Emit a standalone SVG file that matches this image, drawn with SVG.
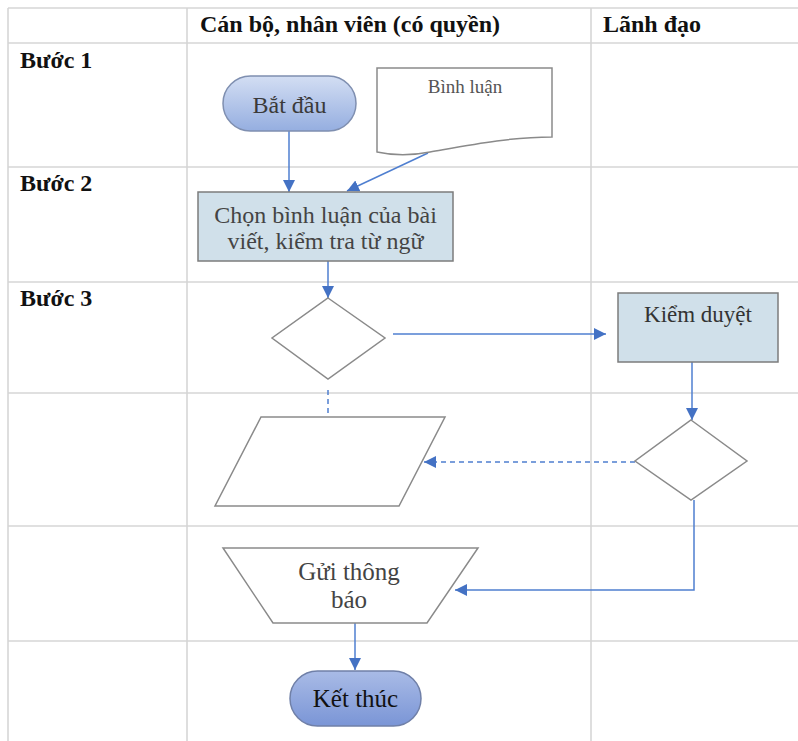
<svg xmlns="http://www.w3.org/2000/svg" width="798" height="741" viewBox="0 0 798 741">
<style>
.grid{stroke:#d6d6d6;stroke-width:1.6;fill:none}
.hdr{font-family:"Liberation Serif","Times New Roman",serif;font-weight:bold;font-size:24px;fill:#111}
.lbl{font-family:"Liberation Serif","Times New Roman",serif;font-size:24px;fill:#3a3a3a;text-anchor:middle}
.shape{stroke:#8a8a8a;stroke-width:1.5}
.con{stroke:#4f7fd0;stroke-width:1.5;fill:none}
.dash{stroke-dasharray:5,4}
</style>
<defs>
<linearGradient id="gStart" x1="0" y1="0" x2="0" y2="1">
<stop offset="0" stop-color="#d3def3"/>
<stop offset="1" stop-color="#95aee0"/>
</linearGradient>
<linearGradient id="gEnd" x1="0" y1="0" x2="0" y2="1">
<stop offset="0" stop-color="#a9bbe6"/>
<stop offset="1" stop-color="#7a95d6"/>
</linearGradient>
<marker id="arr" markerUnits="userSpaceOnUse" markerWidth="13" markerHeight="12" refX="12" refY="6" orient="auto">
<path d="M0,0 L12,6 L0,12 Z" fill="#4472c4"/>
</marker>
</defs>
<rect width="798" height="741" fill="#ffffff"/>
<g id="table">
<path class="grid" d="M8,8 H798 M8,43 H798 M8,167 H798 M8,282 H798 M8,393 H798 M8,526 H798 M8,641 H798 M8,8 V741 M187,8 V741 M591,8 V741"/>
<text class="hdr" x="200" y="32">Cán bộ, nhân viên (có quyền)</text>
<text class="hdr" x="603" y="32">Lãnh đạo</text>
<text class="hdr" x="20" y="68">Bước 1</text>
<text class="hdr" x="20" y="191">Bước 2</text>
<text class="hdr" x="20" y="306">Bước 3</text>
</g>
<g id="connectors">
<path class="con" d="M289,131 V192" marker-end="url(#arr)"/>
<path class="con" d="M428,153 L347,191" marker-end="url(#arr)"/>
<path class="con" d="M328,261 V298" marker-end="url(#arr)"/>
<path class="con" d="M393,334 H606" marker-end="url(#arr)"/>
<path class="con dash" d="M328,390 V416"/>
<path class="con" d="M692,362 V420" marker-end="url(#arr)"/>
<path class="con dash" d="M635,462 H424" marker-end="url(#arr)"/>
<path class="con" d="M694,500 V590 H455" marker-end="url(#arr)"/>
<path class="con" d="M355,623 V670" marker-end="url(#arr)"/>
</g>
<g id="start">
<rect x="223" y="76" width="133" height="55" rx="27.5" fill="url(#gStart)" stroke="#7f8fb0" stroke-width="1.5"/>
<text class="lbl" x="289.5" y="113" font-size="25">Bắt đầu</text>
</g>
<g id="doc">
<path class="shape" fill="#ffffff" d="M377,68 H552 V137 C510,137 470,145 430,152 C415,155 395,156 377,152 Z"/>
<text class="lbl" x="465" y="93" style="font-size:19px;fill:#555">Bình luận</text>
</g>
<g id="select">
<rect x="198" y="192" width="255" height="69" fill="#d0e0ea" stroke="#7c7c7c" stroke-width="1.5"/>
<text class="lbl" x="325.5" y="223" style="fill:#444">Chọn bình luận của bài</text>
<text class="lbl" x="325.5" y="249" style="fill:#444">viết, kiểm tra từ ngữ</text>
</g>
<g id="decision1">
<polygon class="shape" fill="#ffffff" points="328,298 385,338 328,379 272,338"/>
</g>
<g id="review">
<rect x="618" y="293" width="160" height="69" fill="#d0e0ea" stroke="#7c7c7c" stroke-width="1.5"/>
<text class="lbl" x="698" y="322" style="font-size:23px;fill:#333">Kiểm duyệt</text>
</g>
<g id="data">
<polygon class="shape" fill="#ffffff" points="261,417 445,417 399,506 215,506"/>
</g>
<g id="decision2">
<polygon class="shape" fill="#ffffff" points="691,420 747,461 691,500 635,461"/>
</g>
<g id="notify">
<polygon class="shape" fill="#ffffff" points="223,548 478,548 427,623 273,623"/>
<text class="lbl" x="349" y="580" style="font-size:25px;fill:#444">Gửi thông</text>
<text class="lbl" x="349" y="608" style="font-size:25px;fill:#444">báo</text>
</g>
<g id="end">
<rect x="290" y="671" width="131" height="55" rx="27.5" fill="url(#gEnd)" stroke="#7080a8" stroke-width="1.5"/>
<text class="lbl" x="355.5" y="707" style="font-size:25px;fill:#111">Kết thúc</text>
</g>
</svg>
